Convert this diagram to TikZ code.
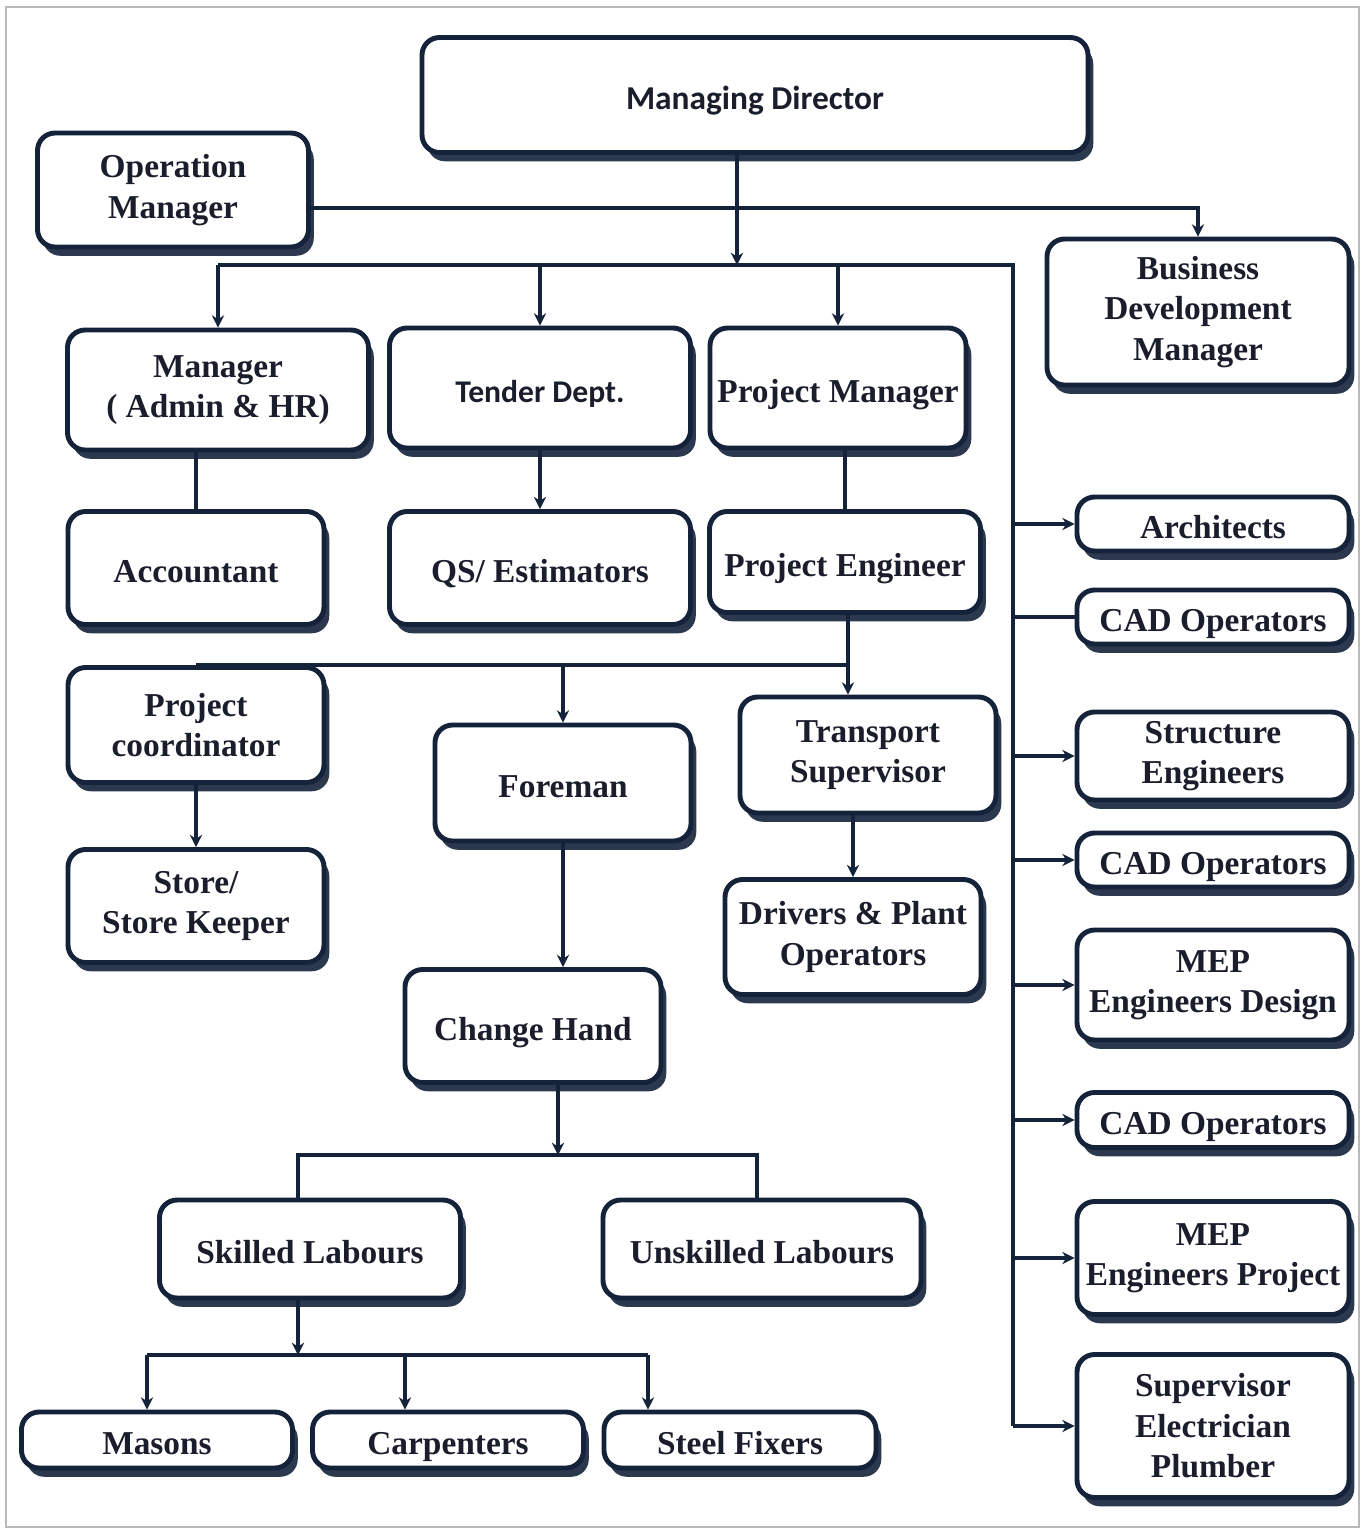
\documentclass[tikz,border=0pt]{standalone}
\usepackage{fontspec}
\setmainfont{Liberation Serif}
\newfontfamily\mdfont{Carlito}
\usetikzlibrary{arrows.meta,shadows,backgrounds}
\definecolor{navy}{RGB}{20,34,58}
\definecolor{ink}{RGB}{26,30,44}
\begin{document}
\begin{tikzpicture}[x=0.02cm, y=-0.02cm, >={Stealth[length=7pt,width=7pt]},
    box/.style={draw=navy, line width=2.8pt, rounded corners=10pt, fill=white, text=ink,
        align=center, inner sep=2pt, font=\bfseries\fontsize{19}{23}\selectfont,
        drop shadow={shadow xshift=3pt, shadow yshift=-5pt, fill=navy, opacity=0.9}},
    one/.style={text height=17pt, text depth=0pt},
    sz/.style 2 args={minimum width=#1*0.02cm, minimum height=#2*0.02cm},
    link/.style={draw=navy, line width=2.2pt}]
    \useasboundingbox (0,0) rectangle (1363,1532);

    % Nodes for the top levels
    \node[box, one, sz={666}{115}, font=\mdfont\bfseries\fontsize{19}{23}\selectfont] (md) at (755,95) {Managing Director};
    \node[box, sz={271}{114}] (opm) at (173,190) {Operation\\Manager};
    \node[box, sz={302}{146}] (bdm) at (1198,312) {Business\\Development\\Manager};
    \node[box, sz={301}{120}] (adm) at (218,390) {Manager\\( Admin \& HR)};
    \node[box, one, sz={301}{120}, font=\mdfont\bfseries\fontsize{18}{22}\selectfont] (tnd) at (540,388) {Tender Dept.};
    \node[box, one, sz={256}{120}] (pm) at (838,388) {Project Manager};

    % Nodes for the middle levels
    \node[box, one, sz={256}{113}] (acc) at (196,568) {Accountant};
    \node[box, one, sz={301}{113}] (qs) at (540,568) {QS/ Estimators};
    \node[box, one, sz={271}{101}] (pe) at (845,562) {Project Engineer};
    \node[box, sz={256}{115}] (pc) at (196,725) {Project\\coordinator};
    \node[box, one, sz={256}{116}] (frm) at (563,783) {Foreman};
    \node[box, sz={256}{116}] (ts) at (868,755) {Transport\\Supervisor};
    \node[box, sz={256}{113}] (sk) at (196,906) {Store/\\Store Keeper};
    \node[box, sz={256}{115}] (drv) at (853,937) {Drivers \& Plant\\Operators};
    \node[box, one, sz={256}{113}] (ch) at (533,1026) {Change Hand};

    % Nodes for the labour levels
    \node[box, one, sz={301}{98}] (skl) at (310,1249) {Skilled Labours};
    \node[box, one, sz={318}{98}] (usk) at (762,1249) {Unskilled Labours};
    \node[box, one, sz={271}{56}] (mas) at (157,1440) {Masons};
    \node[box, one, sz={271}{56}] (car) at (448,1440) {Carpenters};
    \node[box, one, sz={272}{56}] (stf) at (740,1440) {Steel Fixers};

    % Nodes for the design column on the right
    \node[box, one, sz={272}{54}] (arc) at (1213,524) {Architects};
    \node[box, one, sz={272}{54}] (cad1) at (1213,617) {CAD Operators};
    \node[box, sz={272}{88}] (str) at (1213,756) {Structure\\Engineers};
    \node[box, one, sz={272}{54}] (cad2) at (1213,860) {CAD Operators};
    \node[box, sz={272}{110}] (mepd) at (1213,985) {MEP\\Engineers Design};
    \node[box, one, sz={272}{55}] (cad3) at (1213,1120) {CAD Operators};
    \node[box, sz={272}{113}] (mepp) at (1213,1258) {MEP\\Engineers Project};
    \node[box, sz={272}{143}] (sep) at (1213,1426) {Supervisor\\Electrician\\Plumber};

    % Junction points
    \coordinate (hub) at (737,265);
    \coordinate (busL) at (218,265);
    \coordinate (busR) at (1013,265);
    \coordinate (opm-out) at (309,208);
    \coordinate (pe-j) at (848,665);
    \coordinate (lab-j) at (558,1155);
    \coordinate (lab-l) at (298,1155);
    \coordinate (lab-r) at (757,1155);
    \coordinate (sk-j) at (298,1355);
    \coordinate (sk-1) at (147,1355);
    \coordinate (sk-2) at (405,1355);
    \coordinate (sk-3) at (648,1355);

    \begin{scope}[on background layer]
        % Frame
        \draw[gray!55, line width=1.5pt] (6,7) rectangle (1359,1527);

        % Edges from the top
        \draw[link, ->] (md.south -| hub) -- (hub);
        \draw[link, ->] (opm-out) -| (bdm.north);
        \draw[link] (busL) -- (busR) -- (busR |- sep.west);
        \draw[link, ->] (busL) -- (adm.north -| busL);
        \draw[link, ->] (tnd.north |- busL) -- (tnd.north);
        \draw[link, ->] (pm.north |- busL) -- (pm.north);

        % Edges in the middle
        \draw[link] (adm.south -| acc.north) -- (acc.north);
        \draw[link, ->] (tnd) -- (qs);
        \draw[link] (pm.south -| pe.north) -- (pe.north);
        \draw[link] (pe.south -| pe-j) -- (pe-j) -- (pc.north |- pe-j);
        \draw[link, ->] (pe-j) -- (ts.north -| pe-j);
        \draw[link, ->] (frm.north |- pe-j) -- (frm.north);
        \draw[link, ->] (pc) -- (sk);
        \draw[link, ->] (ts.south -| drv.north) -- (drv.north);
        \draw[link, ->] (frm.south) -- (frm.south |- ch.north);

        % Edges to the labours
        \draw[link, ->] (ch.south -| lab-j) -- (lab-j);
        \draw[link] (lab-l |- skl.north) -- (lab-l) -- (lab-r) -- (lab-r |- usk.north);
        \draw[link, ->] (skl.south -| sk-j) -- (sk-j);
        \draw[link] (sk-1) -- (sk-3);
        \draw[link, ->] (sk-1) -- (sk-1 |- mas.north);
        \draw[link, ->] (sk-2) -- (sk-2 |- car.north);
        \draw[link, ->] (sk-3) -- (sk-3 |- stf.north);

        % Edges to the design column
        \draw[link] (busR |- cad1.west) -- (cad1.west);
        \foreach \n in {arc, str, cad2, mepd, cad3, mepp, sep}
            \draw[link, ->] (busR |- \n.west) -- (\n.west);
    \end{scope}
\end{tikzpicture}
\end{document}
